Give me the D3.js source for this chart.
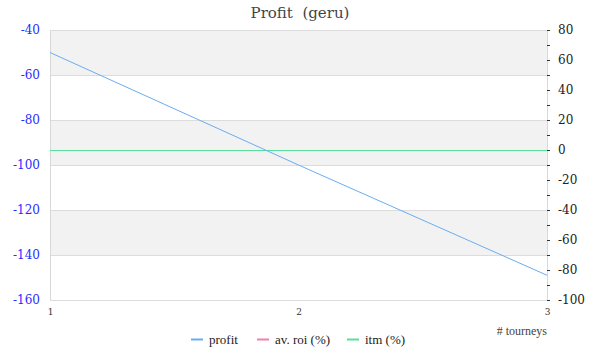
<!DOCTYPE html>
<html><head><meta charset="utf-8">
<script src="https://cdn.jsdelivr.net/npm/d3@7"></script>
<style>body{margin:0;background:#fff;}svg{display:block;}</style>
</head><body>
<svg id="c" width="600" height="360"></svg>
<script>
const tourneys = [1, 2, 3];
const profit = [-50, -100, -149];
const avRoi = [0, 0, 0];
const itm = [0, 0, 0];
const leftTicks = [-40, -60, -80, -100, -120, -140, -160];
const rightTicks = [80, 60, 40, 20, 0, -20, -40, -60, -80, -100];
const seriesNames = ["profit", "av. roi (%)", "itm (%)"];
const seriesColors = ["#6aacf2", "#f07fb4", "#5ade9e"];

const svg = d3.select("#c");
const L = 50, R = 547, T = 30, B = 300;
const x = d3.scaleLinear().domain([1, 3]).range([L, R]);
const yL = d3.scaleLinear().domain([-160, -40]).range([B, T]);
const yR = d3.scaleLinear().domain([-100, 80]).range([B, T]);
const fmt = d => String(d);

// bands
for (let i = 0; i < leftTicks.length - 1; i += 2) {
  svg.append("rect").attr("x", L).attr("width", R - L)
    .attr("y", yL(leftTicks[i])).attr("height", yL(leftTicks[i + 1]) - yL(leftTicks[i]))
    .attr("fill", "#f2f2f2");
}
// grid
svg.append("g").selectAll("line").data(leftTicks).join("line")
  .attr("x1", L).attr("x2", R).attr("y1", d => yL(d) + 0.5).attr("y2", d => yL(d) + 0.5)
  .attr("stroke", "#dcdcdc").attr("stroke-width", 1);
svg.append("line").attr("x1", L + 0.5).attr("x2", L + 0.5).attr("y1", T).attr("y2", B)
  .attr("stroke", "#d8d8d8");
svg.append("line").attr("x1", R + 0.5).attr("x2", R + 0.5).attr("y1", T).attr("y2", B)
  .attr("stroke", "#d8d8d8");

// left axis
const gl = svg.append("g").attr("transform", `translate(${L},0)`)
  .call(d3.axisLeft(yL).tickValues(leftTicks).tickFormat(fmt).tickSize(0).tickPadding(10));
gl.select(".domain").remove();
gl.selectAll("text").attr("fill", "#2b2bff").attr("font-family", "DejaVu Serif, serif")
  .attr("font-size", 12).attr("dy", "0.32em");

// right axis
const gr = svg.append("g").attr("transform", `translate(${R},0)`)
  .call(d3.axisRight(yR).tickValues(rightTicks).tickFormat(fmt).tickSize(3).tickPadding(8));
gr.select(".domain").remove();
gr.selectAll("line").attr("stroke", "#333");
gr.selectAll("text").attr("fill", "#222").attr("font-family", "DejaVu Serif, serif")
  .attr("font-size", 12).attr("dy", "0.32em");
const minor = d3.range(-90, 80, 20);
svg.append("g").selectAll("line").data(minor).join("line")
  .attr("x1", R).attr("x2", R + 3).attr("y1", d => yR(d) + 0.5).attr("y2", d => yR(d) + 0.5)
  .attr("stroke", "#333");

// x axis
const gx = svg.append("g").attr("transform", `translate(0,${B})`)
  .call(d3.axisBottom(x).tickValues(tourneys).tickFormat(d3.format("d")).tickSize(0).tickPadding(9));
gx.select(".domain").remove();
gx.selectAll("text").attr("fill", "#333").attr("font-family", "DejaVu Serif, serif").attr("font-size", 9);

svg.append("text").attr("x", R).attr("y", 335).attr("text-anchor", "end")
  .attr("font-family", "Liberation Serif, serif").attr("font-size", 12).attr("fill", "#444")
  .text("# tourneys");

// lines
const lineL = d3.line().x((d, i) => x(tourneys[i])).y(d => yL(d));
const lineR = d3.line().x((d, i) => x(tourneys[i])).y(d => yR(d));
svg.append("path").datum(avRoi).attr("d", lineR).attr("transform", "translate(0,0.5)")
  .attr("fill", "none").attr("stroke", seriesColors[1]).attr("stroke-width", 1);
svg.append("path").datum(itm).attr("d", lineR).attr("transform", "translate(0,0.5)")
  .attr("fill", "none").attr("stroke", seriesColors[2]).attr("stroke-width", 1);
svg.append("path").datum(profit).attr("d", lineL).attr("fill", "none").attr("stroke", seriesColors[0]).attr("stroke-width", 1);

// title
svg.append("text").attr("x", 300).attr("y", 18).attr("text-anchor", "middle")
  .attr("font-family", "DejaVu Serif, serif").attr("font-size", 15).attr("fill", "#444")
  .style("white-space", "pre").text("Profit  (geru)");

// legend
const legX = [191, 257, 347];
const lg = svg.append("g").selectAll("g").data(seriesNames).join("g")
  .attr("transform", (d, i) => `translate(${legX[i]},339.5)`);
lg.append("line").attr("x1", 0).attr("x2", 12).attr("y1", 0).attr("y2", 0)
  .attr("stroke", (d, i) => seriesColors[i]).attr("stroke-width", 2);
lg.append("text").attr("x", 18).attr("y", 4).attr("font-family", "Liberation Serif, serif")
  .attr("font-size", 13).attr("fill", "#222").text(d => d);
</script>
</body></html>
